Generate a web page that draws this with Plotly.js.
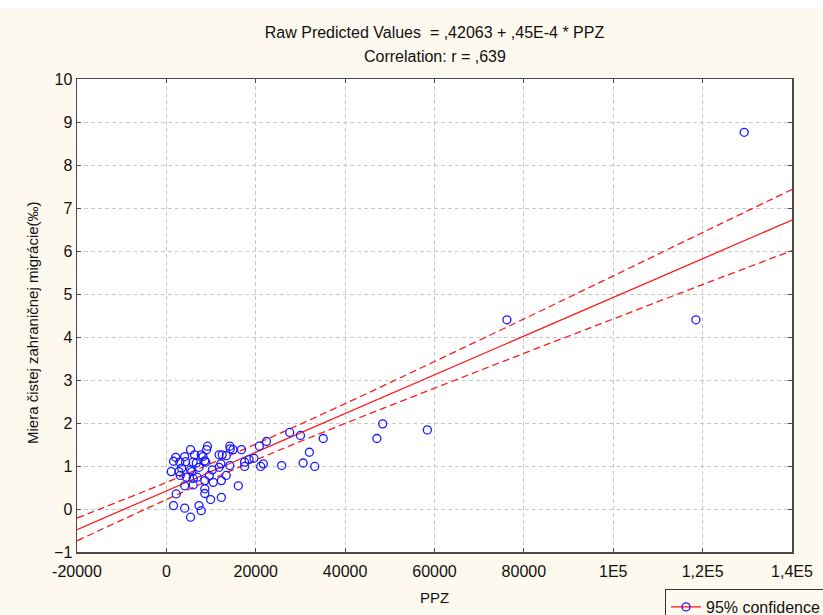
<!DOCTYPE html>
<html>
<head>
<meta charset="utf-8">
<script src="https://cdn.plot.ly/plotly-3.0.1.min.js"></script>
<style>html,body{margin:0;padding:0;background:#fdf9ee;}#chart{width:823px;height:615px;}</style>
</head>
<body>
<div id="chart"></div>
<script>
// Observed data: PPZ (x) and net foreign migration rate (y)
var ppz = [9200, 9000, 14200, 14300, 14900, 16800, 20800, 22400, 5400, 2100,
  4100, 6300, 7800, 8200, 11800, 12500, 13400, 1600, 3000, 4300,
  6000, 6700, 8600, 8800, 12200, 17500, 18500, 19600, 1100, 2800,
  3400, 5400, 5700, 7300, 10300, 11800, 14200, 17500, 21700, 21100,
  3100, 4500, 6000, 6900, 9600, 8600, 10500, 12300, 13400, 4100,
  6000, 8600, 16100, 2200, 8600, 9900, 12300, 1600, 4100, 7300,
  7800, 5400, 27600, 30000, 35100, 32000, 30600, 33200, 25800, 48400,
  47100, 58400, 76200, 118500, 129300];
var migr = [1.46, 1.38, 1.46, 1.40, 1.38, 1.38, 1.46, 1.57, 1.38, 1.20,
  1.22, 1.26, 1.26, 1.22, 1.26, 1.26, 1.24, 1.11, 1.09, 1.10,
  1.09, 1.07, 1.12, 1.09, 1.05, 1.09, 1.15, 1.18, 0.87, 0.87,
  0.95, 0.91, 0.87, 0.97, 0.91, 0.97, 1.01, 0.99, 1.05, 0.99,
  0.78, 0.74, 0.71, 0.74, 0.78, 0.66, 0.62, 0.66, 0.78, 0.54,
  0.56, 0.47, 0.54, 0.35, 0.36, 0.22, 0.27, 0.08, 0.02, 0.08,
  -0.04, -0.19, 1.78, 1.71, 1.64, 1.32, 1.07, 0.99, 1.01, 1.98,
  1.64, 1.84, 4.40, 4.40, 8.76];

// Regression line
var fitX = [-20000, 140000];
var fitY = [-0.48, 6.72];

// 95% confidence band
var bandX = [-20000, 0, 20000, 40000, 60000, 80000, 100000, 120000, 140000];
var bandUpper = [-0.21, 0.62, 1.51, 2.45, 3.43, 4.42, 5.42, 6.43, 7.43];
var bandLower = [-0.74, 0.22, 1.14, 1.99, 2.81, 3.62, 4.42, 5.22, 6.01];

// Tick labels
var xTickVals = [-20000, 0, 20000, 40000, 60000, 80000, 100000, 120000, 140000];
var xTickText = ['-20000', '0', '20000', '40000', '60000', '80000', '1E5', '1,2E5', '1,4E5'];
var yTickVals = [-1, 0, 1, 2, 3, 4, 5, 6, 7, 8, 9, 10];

var titleLine1 = 'Raw Predicted Values  = ,42063 + ,45E-4 * PPZ';
var titleLine2 = 'Correlation: r = ,639';
var xTitle = 'PPZ';
var yTitle = 'Miera čistej zahraničnej migrácie(‰)';
var legendName = '95% confidence';

var RED = '#ff1a1a', BLUE = '#1a1aff';

var traces = [
  {x: fitX, y: fitY, mode: 'lines', line: {color: RED, width: 1.3}, showlegend: false, hoverinfo: 'skip'},
  {x: bandX, y: bandUpper, mode: 'lines', line: {color: RED, width: 1.3, dash: '7px,4px', shape: 'spline'}, showlegend: false, hoverinfo: 'skip'},
  {x: bandX, y: bandLower, mode: 'lines', line: {color: RED, width: 1.3, dash: '7px,4px', shape: 'spline'}, showlegend: false, hoverinfo: 'skip'},
  {x: ppz, y: migr, mode: 'markers', marker: {symbol: 'circle-open', size: 8, color: BLUE, line: {width: 1.3, color: BLUE}}, showlegend: false},
  {x: [null], y: [null], mode: 'lines+markers', name: legendName,
   line: {color: RED, width: 1.3}, marker: {symbol: 'circle-open', size: 8, color: BLUE, line: {width: 1.3, color: BLUE}}}
];

var FONT = 'Liberation Sans, Arial, sans-serif';
var axisCommon = {
  automargin: false,
  showline: true, mirror: 'all', linecolor: '#4a4a4a', linewidth: 1.5,
  ticks: 'inside', ticklen: 4, tickcolor: '#4a4a4a',
  showgrid: true, gridcolor: '#c8c8c8', gridwidth: 1, griddash: '4px,3px',
  zeroline: false, tickfont: {family: FONT, size: 16, color: '#111'}
};

var layout = {
  width: 823, height: 615,
  paper_bgcolor: '#fdf9ee', plot_bgcolor: '#ffffff',
  margin: {l: 77, r: 31, t: 79, b: 63, autoexpand: false},
  font: {family: FONT, size: 16, color: '#111'},
  title: {text: titleLine1, x: 0.5, xref: 'paper', y: 1 - 32 / 615, yref: 'container', yanchor: 'middle',
          automargin: false, font: {size: 16, family: FONT, color: '#111'}},
  annotations: [
    {text: titleLine2, x: 0.5, xref: 'paper', y: 1 + (79 - 57) / 473, yref: 'paper',
     yanchor: 'middle', showarrow: false, font: {size: 16, color: '#111'}},
    {text: yTitle, textangle: -90, x: (32 - 77) / 715, xref: 'paper', y: (552 - 323) / 473, yref: 'paper',
     xanchor: 'center', yanchor: 'middle', showarrow: false, font: {size: 15, color: '#111'}}
  ],
  xaxis: Object.assign({}, axisCommon, {
    range: [-20000, 140000], tickmode: 'array', tickvals: xTickVals, ticktext: xTickText,
    ticklabelstandoff: 4,
    title: {text: xTitle, standoff: 14, font: {size: 15}}
  }),
  yaxis: Object.assign({}, axisCommon, {
    range: [-1, 10], tickmode: 'array', tickvals: yTickVals
  }),
  showlegend: true,
  legend: {x: (665 - 77) / 715, y: (552 - 589) / 473, xanchor: 'left', yanchor: 'top',
           bordercolor: '#333', borderwidth: 1, bgcolor: '#fdf9ee',
           font: {size: 16, color: '#111'}},
  shapes: [
    {type: 'rect', xref: 'paper', yref: 'paper', x0: -0.2, x1: 1.2, y0: 1 + (79 - 8) / 473, y1: 1.3,
     fillcolor: '#ffffff', line: {width: 0}, layer: 'below'}
  ]
};

Plotly.newPlot('chart', traces, layout, {displayModeBar: false, staticPlot: true});
</script>
</body>
</html>
